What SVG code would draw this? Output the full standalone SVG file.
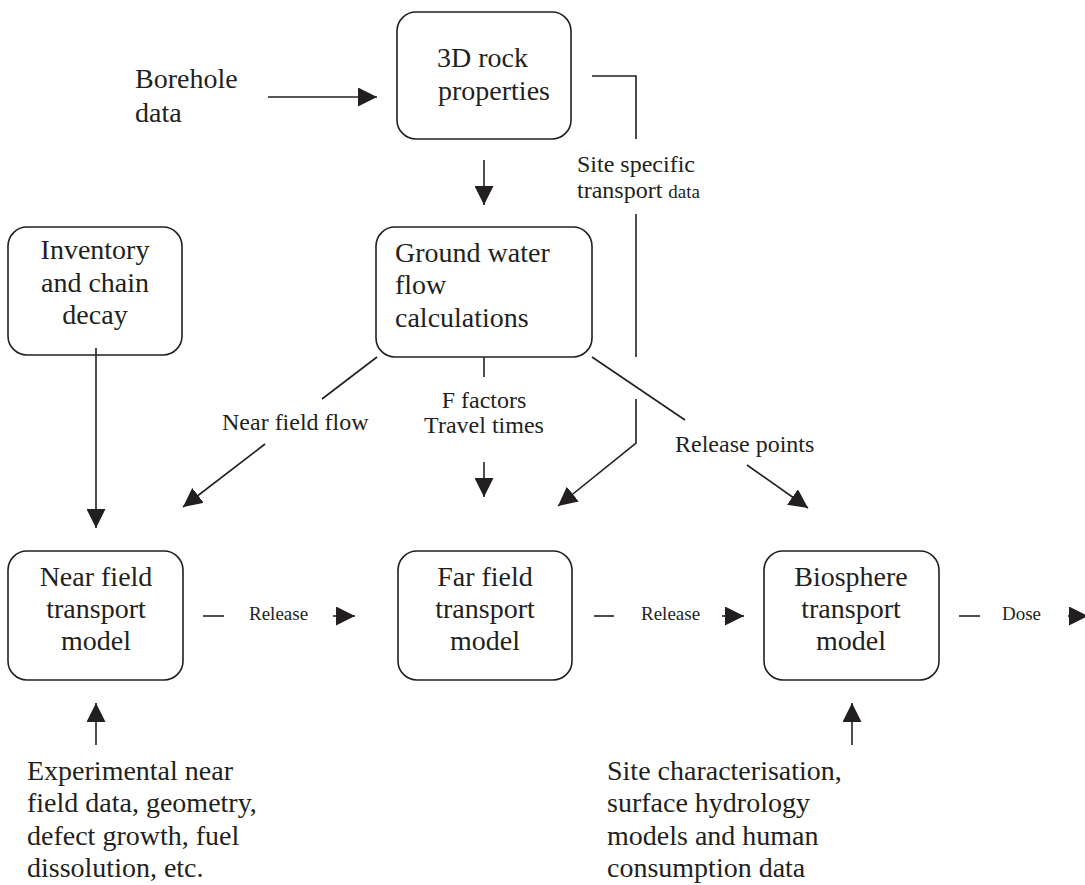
<svg xmlns="http://www.w3.org/2000/svg" width="1085" height="885" viewBox="0 0 1085 885">
<style>
.box{fill:#fff;stroke:#231f20;stroke-width:1.6}
.ln{fill:none;stroke:#231f20;stroke-width:1.6}
.t{font-family:"Liberation Serif","Times New Roman",serif;font-size:28px;fill:#231f20}
.c{text-anchor:middle}
.l{font-family:"Liberation Serif","Times New Roman",serif;font-size:24px;fill:#231f20}
.s{font-family:"Liberation Serif","Times New Roman",serif;font-size:19px;fill:#231f20}
</style>
<defs>
<marker id="ah" viewBox="0 0 20 20" refX="20" refY="10" markerWidth="19" markerHeight="19" markerUnits="userSpaceOnUse" orient="auto">
<path d="M0,0 L20,10 L0,20 z" fill="#231f20"/>
</marker>
</defs>
<rect width="1085" height="885" fill="#fff"/>

<g id="borehole"><text class="t" x="135" y="88">Borehole</text><text class="t" x="135" y="122">data</text></g>
<g id="rock"><rect class="box" x="397" y="12" width="174" height="127" rx="19"/><text class="t" x="437" y="67">3D rock</text><text class="t" x="438" y="100">properties</text></g>
<g id="groundwater"><rect class="box" x="376" y="227" width="216" height="130" rx="19"/><text class="t" x="395" y="262">Ground water</text><text class="t" x="395" y="294">flow</text><text class="t" x="395" y="327">calculations</text></g>
<g id="inventory"><rect class="box" x="8" y="227" width="174" height="128" rx="19"/><text class="t c" x="95" y="259">Inventory</text><text class="t c" x="95" y="292">and chain</text><text class="t c" x="95" y="324">decay</text></g>
<g id="nearfield"><rect class="box" x="8" y="551" width="175" height="129" rx="19"/><text class="t c" x="96" y="586">Near field</text><text class="t c" x="96" y="618">transport</text><text class="t c" x="96" y="650">model</text></g>
<g id="farfield"><rect class="box" x="398" y="551" width="174" height="129" rx="19"/><text class="t c" x="485" y="586">Far field</text><text class="t c" x="485" y="618">transport</text><text class="t c" x="485" y="650">model</text></g>
<g id="biosphere"><rect class="box" x="764" y="551" width="175" height="129" rx="19"/><text class="t c" x="851" y="586">Biosphere</text><text class="t c" x="851" y="618">transport</text><text class="t c" x="851" y="650">model</text></g>
<g id="experimental"><text class="t" x="27" y="780">Experimental near</text><text class="t" x="27" y="812">field data, geometry,</text><text class="t" x="27" y="845">defect growth, fuel</text><text class="t" x="27" y="877">dissolution, etc.</text></g>
<g id="sitechar"><text class="t" x="607" y="780">Site characterisation,</text><text class="t" x="607" y="812">surface hydrology</text><text class="t" x="607" y="845">models and human</text><text class="t" x="607" y="877">consumption data</text></g>

<g id="labels">
<text class="l" x="577" y="172">Site specific</text>
<text class="l" x="577" y="198">transport <tspan style="font-size:19px">data</tspan></text>
<text class="l" x="222" y="430">Near field flow</text>
<text class="l c" x="484" y="408">F factors</text>
<text class="l c" x="484" y="433">Travel times</text>
<text class="l" x="675" y="452">Release points</text>
<text class="s" x="249" y="620">Release</text>
<text class="s" x="641" y="620">Release</text>
<text class="s" x="1002" y="620">Dose</text>
</g>

<g id="connectors">
<line class="ln" x1="268" y1="97" x2="377" y2="97" marker-end="url(#ah)"/>
<line class="ln" x1="484" y1="160" x2="484" y2="205" marker-end="url(#ah)"/>
<polyline class="ln" points="592,76 636,76 636,139"/>
<line class="ln" x1="636" y1="214" x2="636" y2="357"/>
<polyline class="ln" points="636,399 636,443 558,506" marker-end="url(#ah)"/>
<line class="ln" x1="377" y1="357" x2="322" y2="399"/>
<line class="ln" x1="265" y1="444" x2="183" y2="507" marker-end="url(#ah)"/>
<line class="ln" x1="484" y1="357" x2="484" y2="377"/>
<line class="ln" x1="484" y1="462" x2="484" y2="497" marker-end="url(#ah)"/>
<line class="ln" x1="592" y1="357" x2="685" y2="420"/>
<line class="ln" x1="747" y1="465" x2="808" y2="508" marker-end="url(#ah)"/>
<line class="ln" x1="96" y1="348" x2="96" y2="528" marker-end="url(#ah)"/>
<line class="ln" x1="203" y1="616" x2="224" y2="616"/>
<line class="ln" x1="333" y1="616" x2="355" y2="616" marker-end="url(#ah)"/>
<line class="ln" x1="594" y1="616" x2="614" y2="616"/>
<line class="ln" x1="722" y1="616" x2="744" y2="616" marker-end="url(#ah)"/>
<line class="ln" x1="959" y1="616" x2="980" y2="616"/>
<line class="ln" x1="1068" y1="616" x2="1088" y2="616" marker-end="url(#ah)"/>
<line class="ln" x1="96" y1="745" x2="96" y2="703" marker-end="url(#ah)"/>
<line class="ln" x1="852" y1="745" x2="852" y2="703" marker-end="url(#ah)"/>
</g>
</svg>
